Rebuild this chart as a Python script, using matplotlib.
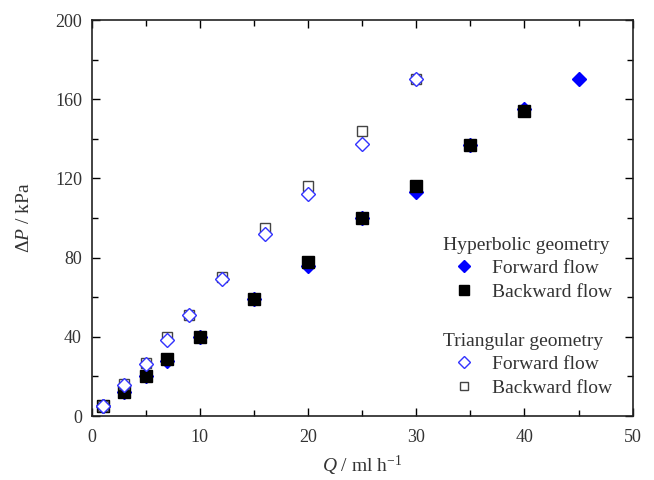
import matplotlib
matplotlib.use('Agg')
import matplotlib.pyplot as plt
from matplotlib.ticker import MultipleLocator

plt.rcParams['font.family'] = 'Liberation Serif'
plt.rcParams['mathtext.fontset'] = 'custom'
plt.rcParams['mathtext.rm'] = 'Liberation Serif'
plt.rcParams['mathtext.it'] = 'Liberation Serif:italic'

# hyperbolic geometry
hyp_fwd_q = [1, 3, 5, 7, 10, 15, 20, 25, 30, 35, 40, 45]
hyp_fwd_p = [5, 12, 20, 28, 40, 59, 76, 100, 113, 137, 155, 170]
hyp_bwd_q = [1, 3, 5, 7, 10, 15, 20, 25, 30, 35, 40]
hyp_bwd_p = [5, 12, 20, 29, 40, 59, 78, 100, 116, 137, 154]

# triangular geometry
tri_fwd_q = [1, 3, 5, 7, 9, 12, 16, 20, 25, 30]
tri_fwd_p = [5, 15.5, 26.5, 38.5, 51, 69, 92, 112, 137.5, 170]
tri_bwd_q = [1, 3, 5, 7, 9, 12, 16, 20, 25, 30]
tri_bwd_p = [5, 16, 27, 40, 51, 70, 95, 116, 144, 170]

fig = plt.figure(figsize=(6.54, 4.8), dpi=100)
ax = fig.add_axes([0.1402, 0.1333, 0.8272, 0.825])

h1, = ax.plot(hyp_fwd_q, hyp_fwd_p, 'D', color='#0000ff', ms=7.6, mec='#0000ff', ls='none')
h2, = ax.plot(hyp_bwd_q, hyp_bwd_p, 's', color='black', ms=8, ls='none')
t2, = ax.plot(tri_bwd_q, tri_bwd_p, 's', mfc='white', mec='#444444', mew=1.0, ms=7.6, ls='none')
t1, = ax.plot(tri_fwd_q, tri_fwd_p, 'D', mfc='white', mec='#3333ff', mew=1.0, ms=7.6, ls='none')

ax.set_xlim(0, 50)
ax.set_ylim(0, 200)
ax.xaxis.set_major_locator(MultipleLocator(10))
ax.xaxis.set_minor_locator(MultipleLocator(5))
ax.yaxis.set_major_locator(MultipleLocator(40))
ax.yaxis.set_minor_locator(MultipleLocator(20))
ax.tick_params(which='both', direction='in', top=True, right=True,
               labelsize=13, labelcolor='#333333', width=1.0)
ax.tick_params(axis='x', pad=9)
ax.tick_params(axis='y', pad=7)
ax.tick_params(which='major', length=6)
ax.tick_params(which='minor', length=4)
for s in ax.spines.values():
    s.set_linewidth(1.2)
    s.set_color('#222222')

ax.set_xlabel(r'$Q$ / ml h$^{-1}$', fontsize=14, color='#333333', labelpad=6)
ax.set_ylabel(r'$\Delta P$ / kPa', fontsize=14, color='#333333', labelpad=16)

leg_kw = dict(loc='upper left', bbox_transform=fig.transFigure, frameon=False,
              fontsize=14, title_fontsize=14, alignment='left', handlelength=2.16,
              handletextpad=0.36, labelspacing=0.3, borderpad=0, markerscale=0.85)
leg1 = ax.legend([h1, h2], ['Forward flow', 'Backward flow'], title='Hyperbolic geometry',
                 bbox_to_anchor=(433 / 654, 1 - 227 / 480), **leg_kw)
ax.add_artist(leg1)
leg2 = ax.legend([t1, t2], ['Forward flow', 'Backward flow'], title='Triangular geometry',
                 bbox_to_anchor=(433 / 654, 1 - 323 / 480), **leg_kw)
for leg in (leg1, leg2):
    for t in leg.get_texts():
        t.set_color('#333333')
    leg.get_title().set_color('#333333')

fig.savefig('out.png', dpi=100)
